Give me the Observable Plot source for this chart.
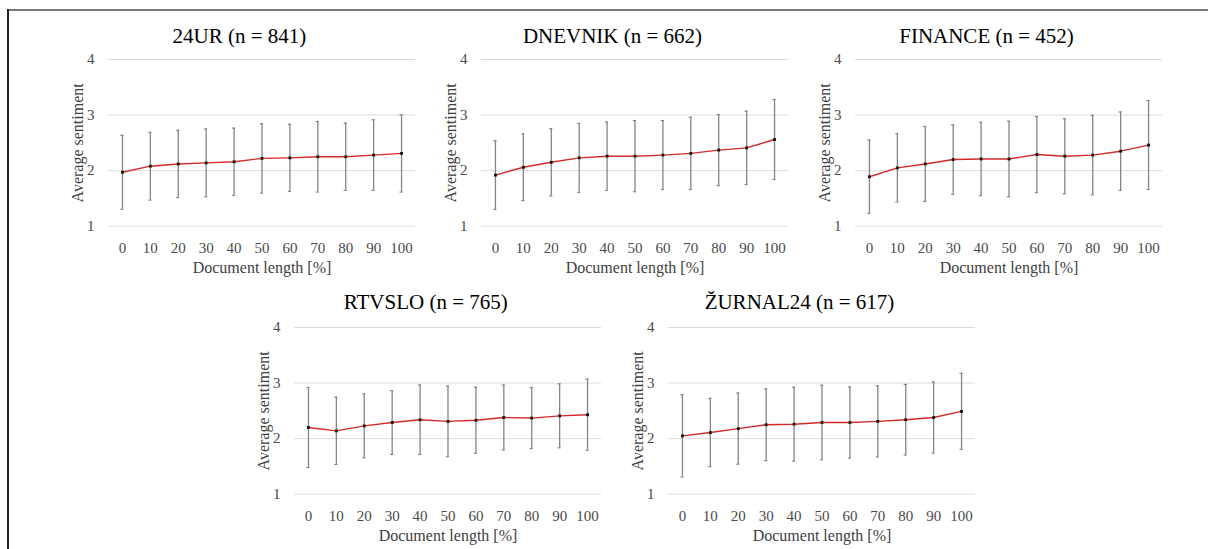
<!DOCTYPE html>
<html>
<head>
<meta charset="utf-8">
<script src="https://cdn.jsdelivr.net/npm/d3@7"></script>
<script src="https://cdn.jsdelivr.net/npm/@observablehq/plot@0.6"></script>
<style>
  html, body { margin: 0; padding: 0; background: #fff; }
  #root { position: relative; width: 1208px; height: 549px; overflow: hidden; background: #fff; }
  #frameTop { position: absolute; left: 8px; top: 9px; width: 1200px; height: 2px; background: #7a7a7a; }
  #frameLeft { position: absolute; left: 7px; top: 9px; width: 2px; height: 540px; background: #222; }
  .ptitle { position: absolute; width: 320px; height: 26px; line-height: 26px; text-align: center;
            font-family: "Liberation Serif", "Times New Roman", serif; font-size: 21px; color: #000; white-space: nowrap; }
  .panel { position: absolute; }
  .panel svg, .panel svg text { font-family: "Liberation Serif", "Times New Roman", serif !important; }
</style>
</head>
<body>
<div id="root">
  <div id="frameTop"></div>
  <div id="frameLeft"></div>
</div>
<script>
// ---- data ----
const xLabels = ["0", "10", "20", "30", "40", "50", "60", "70", "80", "90", "100"];

const titles = ["24UR (n = 841)", "DNEVNIK (n = 662)", "FINANCE (n = 452)", "RTVSLO (n = 765)", "ŽURNAL24 (n = 617)"];

const mean24UR    = [1.97, 2.08, 2.12, 2.14, 2.16, 2.22, 2.23, 2.25, 2.25, 2.28, 2.31];
const sd24UR      = [0.665, 0.61, 0.605, 0.61, 0.605, 0.625, 0.605, 0.635, 0.605, 0.635, 0.695];

const meanDnevnik = [1.92, 2.06, 2.15, 2.23, 2.26, 2.26, 2.28, 2.31, 2.37, 2.41, 2.56];
const sdDnevnik   = [0.62, 0.60, 0.605, 0.62, 0.615, 0.64, 0.62, 0.65, 0.64, 0.66, 0.72];

const meanFinance = [1.89, 2.05, 2.12, 2.20, 2.21, 2.21, 2.29, 2.26, 2.28, 2.35, 2.46];
const sdFinance   = [0.66, 0.615, 0.675, 0.625, 0.66, 0.68, 0.685, 0.675, 0.715, 0.705, 0.80];

const meanRtvslo  = [2.20, 2.14, 2.23, 2.29, 2.34, 2.31, 2.33, 2.38, 2.37, 2.41, 2.43];
const sdRtvslo    = [0.72, 0.605, 0.575, 0.575, 0.625, 0.635, 0.595, 0.585, 0.55, 0.575, 0.64];

const meanZurnal  = [2.05, 2.11, 2.18, 2.25, 2.26, 2.29, 2.29, 2.31, 2.34, 2.38, 2.49];
const sdZurnal    = [0.74, 0.615, 0.64, 0.645, 0.665, 0.67, 0.64, 0.64, 0.635, 0.64, 0.685];

const yTicks = [1, 2, 3, 4];
const xAxisLabel = "Document length [%]";
const yAxisLabel = "Average sentiment";

// ---- layout (frame left/top positions of each panel) ----
const layout = [
  {frameLeft: 108, frameTop: 59.3},
  {frameLeft: 481, frameTop: 59.3},
  {frameLeft: 855, frameTop: 59.3},
  {frameLeft: 294.3, frameTop: 326.7},
  {frameLeft: 668, frameTop: 326.7}
];
const series = [
  [mean24UR, sd24UR],
  [meanDnevnik, sdDnevnik],
  [meanFinance, sdFinance],
  [meanRtvslo, sdRtvslo],
  [meanZurnal, sdZurnal]
];

const FONT = "Liberation Serif, Times New Roman, serif";
const mL = 60, mR = 10, mT = 10, mB = 60;
const frameW = 307, frameH = 166.7;
const W = mL + frameW + mR, H = Math.round(mT + frameH + mB);

const root = document.getElementById("root");

series.forEach(([mean, sd], k) => {
  const data = xLabels.map((x, i) => ({x, mean: mean[i], lo: mean[i] - sd[i], hi: mean[i] + sd[i]}));
  const chart = Plot.plot({
    width: W,
    height: H,
    marginLeft: mL, marginRight: mR, marginTop: mT, marginBottom: H - mT - frameH,
    style: {fontFamily: FONT, background: "transparent", color: "#4a4a4a", overflow: "visible"},
    x: {type: "band", domain: xLabels, padding: 0, round: false, label: null},
    y: {domain: [1, 4], label: null},
    marks: [
      Plot.ruleY(yTicks, {stroke: "#dcdcdc", strokeWidth: 1}),
      Plot.axisY({ticks: yTicks, tickSize: 0, tickPadding: 14, fontSize: 15, fontFamily: FONT, label: null, tickFormat: d => String(d)}),
      Plot.axisX({tickSize: 0, tickPadding: 16, fontSize: 15, fontFamily: FONT, label: null}),
      Plot.ruleX(data, {x: "x", y1: "lo", y2: "hi", stroke: "#858585", strokeWidth: 1.3}),
      Plot.tickY(data, {x: "x", y: "lo", insetLeft: 12.4, insetRight: 12.4, stroke: "#858585", strokeWidth: 1.2}),
      Plot.tickY(data, {x: "x", y: "hi", insetLeft: 12.4, insetRight: 12.4, stroke: "#858585", strokeWidth: 1.2}),
      Plot.line(data, {x: "x", y: "mean", stroke: "#d42a2a", strokeWidth: 1.4}),
      Plot.dot(data, {x: "x", y: "mean", symbol: "square", r: 1.6, fill: "#111", stroke: "none"}),
      Plot.text([xAxisLabel], {frameAnchor: "bottom", textAnchor: "middle", lineAnchor: "top", dy: 35, fontSize: 16, fontFamily: FONT, fill: "#404040"}),
      Plot.text([yAxisLabel], {frameAnchor: "left", textAnchor: "middle", lineAnchor: "middle", rotate: -90, dx: -30.5, fontSize: 16, fontFamily: FONT, fill: "#404040"})
    ]
  });
  chart.setAttribute("font-family", FONT);
  chart.style.fontFamily = FONT;
  const L = layout[k];
  const wrap = document.createElement("div");
  wrap.className = "panel";
  wrap.style.left = (L.frameLeft - mL) + "px";
  wrap.style.top = (L.frameTop - mT) + "px";
  wrap.appendChild(chart);
  root.appendChild(wrap);

  const t = document.createElement("div");
  t.className = "ptitle";
  t.textContent = titles[k];
  const cx = L.frameLeft + frameW / 2 - 22;
  const cy = L.frameTop - (k < 3 ? 23.5 : 25);
  t.style.left = (cx - 160) + "px";
  t.style.top = (cy - 13) + "px";
  root.appendChild(t);
});
</script>
</body>
</html>
